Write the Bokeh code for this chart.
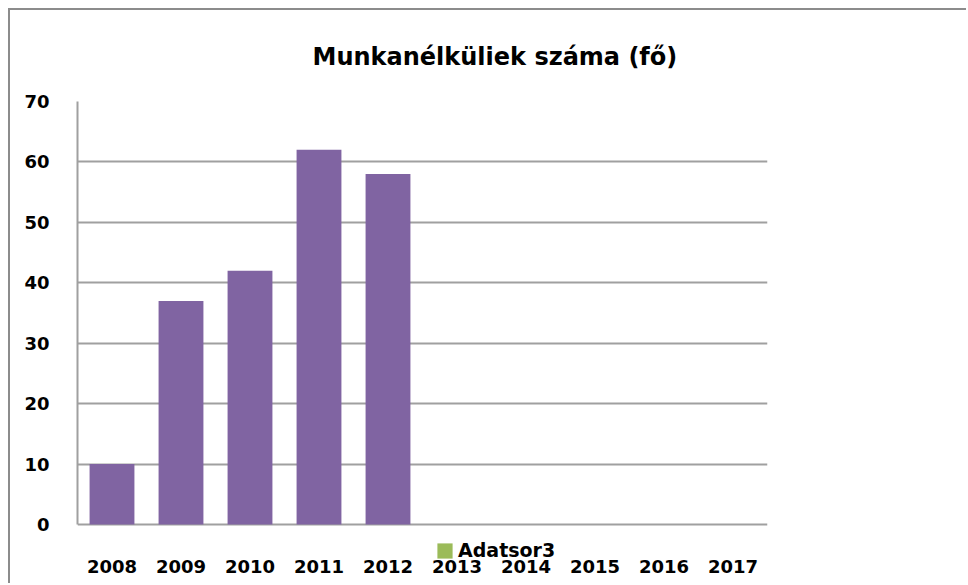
from bokeh.plotting import figure
from bokeh.models import ColumnDataSource, Legend, LegendItem, FixedTicker, Title
from bokeh.embed import file_html
from bokeh.resources import INLINE

# ---- data ----
years = ["2008", "2009", "2010", "2011", "2012", "2013", "2014", "2015", "2016", "2017"]
bar_years = ["2008", "2009", "2010", "2011", "2012"]
unemployed = [10, 37, 42, 62, 58]
adatsor3 = [float("nan")] * len(years)   # empty series, shown only in the legend
y_ticks = [0, 10, 20, 30, 40, 50, 60, 70]
title_text = "Munkanélküliek száma (fő)"
legend_label = "Adatsor3"

FONT = "DejaVu Sans"

# frame extends a little below 0 so that the legend (which overlaps the
# category labels in the original) can live inside it without being clipped
p = figure(
    x_range=years, y_range=(-6.13, 70),
    width=958, height=575,
    output_backend="svg", toolbar_location=None,
    min_border_left=67, min_border_right=201,
    min_border_top=91, min_border_bottom=24,
)
p.styles = {"margin-left": "8px", "margin-top": "8px",
            "border-top": "2px solid #8c8c8c", "border-left": "2px solid #8c8c8c"}
p.outline_line_color = None
p.background_fill_color = "white"
p.border_fill_color = "white"

p.title = Title(text=title_text, align="left", offset=235, standoff=61,
                text_font=FONT, text_font_style="bold", text_font_size="24px",
                text_line_height=0.8, text_color="black")

src = ColumnDataSource(dict(x=bar_years, top=unemployed))
p.vbar(x="x", top="top", bottom=0, width=0.65, source=src,
       fill_color="#8064A2", line_color=None)

src3 = ColumnDataSource(dict(x=years, top=adatsor3))
r3 = p.vbar(x="x", top="top", bottom=0, width=0.65, source=src3,
            fill_color="#9BBB59", line_color=None)

legend = Legend(items=[LegendItem(label=legend_label, renderers=[r3], index=0)],
                location=(358, 0), orientation="horizontal",
                glyph_width=19, glyph_height=19, label_standoff=4,
                padding=0, margin=0, spacing=0,
                border_line_color=None, background_fill_alpha=0,
                label_text_font=FONT, label_text_font_style="bold",
                label_text_font_size="19px", label_text_color="black")
p.add_layout(legend, "center")

# axes
p.yaxis.ticker = FixedTicker(ticks=y_ticks)
p.yaxis.bounds = (0, 70)
for ax in (p.xaxis[0], p.yaxis[0]):
    ax.axis_line_color = "#a0a0a0"
    ax.axis_line_width = 2
    ax.major_tick_line_color = None
    ax.minor_tick_line_color = None
    ax.major_label_text_font = FONT
    ax.major_label_text_font_style = "bold"
    ax.major_label_text_font_size = "18px"
    ax.major_label_text_color = "black"
p.yaxis.major_label_standoff = 22
p.xaxis.axis_line_color = None
p.xaxis.major_label_standoff = -8

p.xgrid.grid_line_color = None
p.ygrid.ticker = FixedTicker(ticks=y_ticks)
p.ygrid.grid_line_color = "#a0a0a0"
p.ygrid.grid_line_width = 2

open("out.html", "w").write(file_html(p, INLINE))
